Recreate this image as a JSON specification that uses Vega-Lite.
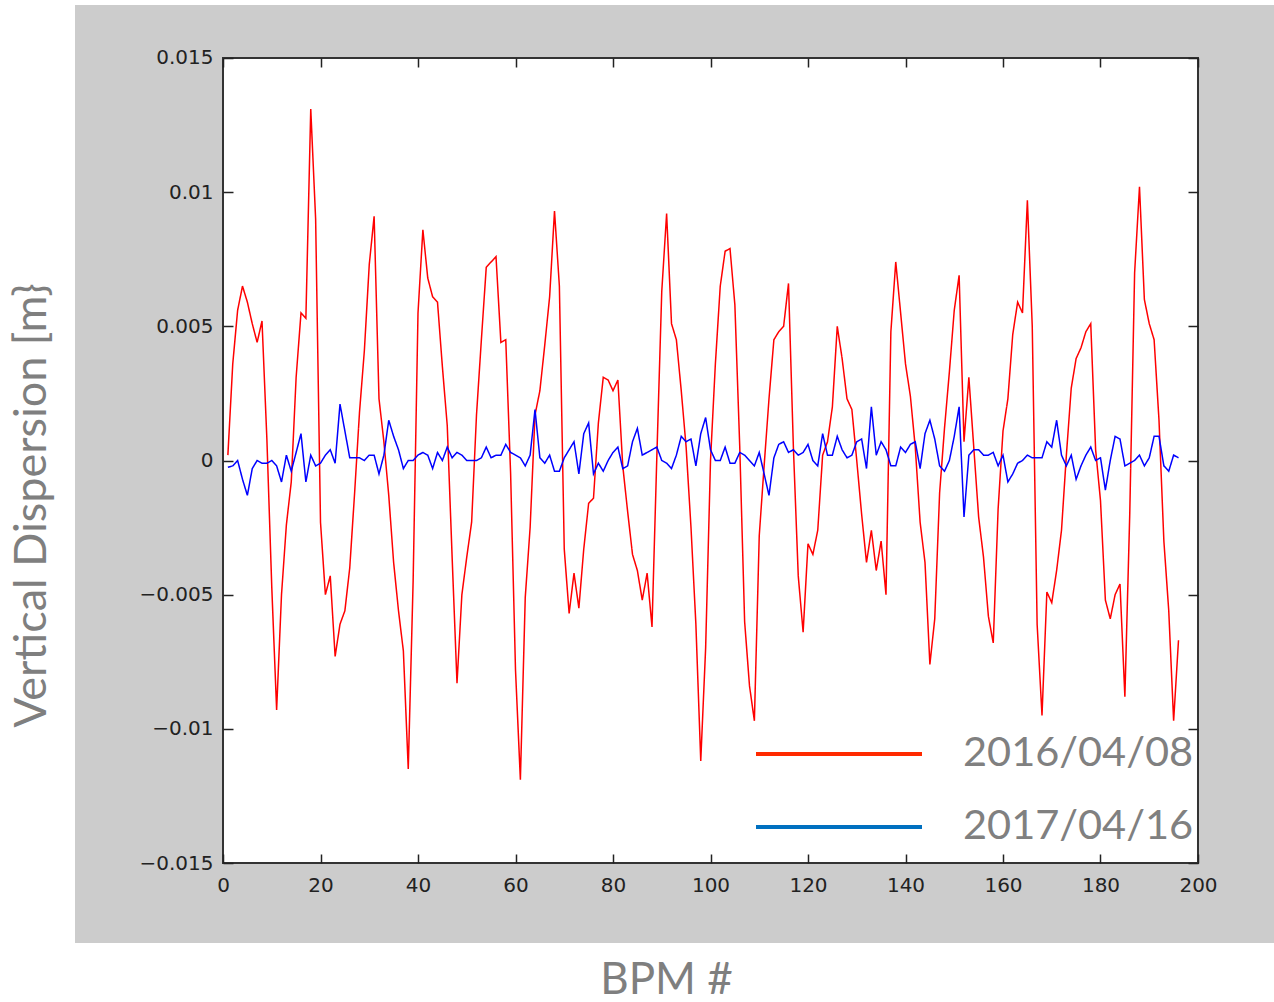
{
  "$schema": "https://vega.github.io/schema/vega-lite/v6.json",
  "width": 1199,
  "height": 938,
  "autosize": {"type": "none"},
  "padding": {"left": 75, "top": 5, "right": 0, "bottom": 59},
  "background": "#ffffff",
  "view": {"fill": "#cccccc", "stroke": null},
  "config": {
    "axis": {"grid": false, "domain": false, "tickColor": "#222222", "tickWidth": 1.5, "labelFont": "DejaVu Sans", "labelFontSize": 20, "labelColor": "#222222"}
  },
  "datasets": {
    "frame": [{"x0": 0, "x1": 200, "y0": -0.015, "y1": 0.015}],
    "red": [
{"bpm":1,"value":0.0002},{"bpm":2,"value":0.0036},{"bpm":3,"value":0.0056},{"bpm":4,"value":0.0065},{"bpm":5,"value":0.0059},{"bpm":6,"value":0.0051},{"bpm":7,"value":0.0044},{"bpm":8,"value":0.0052},{"bpm":9,"value":0.0008},{"bpm":10,"value":-0.0047},
{"bpm":11,"value":-0.0093},{"bpm":12,"value":-0.0050},{"bpm":13,"value":-0.0024},{"bpm":14,"value":-0.0008},{"bpm":15,"value":0.0031},{"bpm":16,"value":0.0055},{"bpm":17,"value":0.0053},{"bpm":18,"value":0.0131},{"bpm":19,"value":0.0090},{"bpm":20,"value":-0.0023},
{"bpm":21,"value":-0.0050},{"bpm":22,"value":-0.0043},{"bpm":23,"value":-0.0073},{"bpm":24,"value":-0.0061},{"bpm":25,"value":-0.0056},{"bpm":26,"value":-0.0040},{"bpm":27,"value":-0.0012},{"bpm":28,"value":0.0018},{"bpm":29,"value":0.0041},{"bpm":30,"value":0.0073},
{"bpm":31,"value":0.0091},{"bpm":32,"value":0.0023},{"bpm":33,"value":0.0007},{"bpm":34,"value":-0.0013},{"bpm":35,"value":-0.0038},{"bpm":36,"value":-0.0056},{"bpm":37,"value":-0.0071},{"bpm":38,"value":-0.0115},{"bpm":39,"value":-0.0045},{"bpm":40,"value":0.0055},
{"bpm":41,"value":0.0086},{"bpm":42,"value":0.0068},{"bpm":43,"value":0.0061},{"bpm":44,"value":0.0059},{"bpm":45,"value":0.0035},{"bpm":46,"value":0.0013},{"bpm":47,"value":-0.0036},{"bpm":48,"value":-0.0083},{"bpm":49,"value":-0.0050},{"bpm":50,"value":-0.0036},
{"bpm":51,"value":-0.0023},{"bpm":52,"value":0.0017},{"bpm":53,"value":0.0045},{"bpm":54,"value":0.0072},{"bpm":55,"value":0.0074},{"bpm":56,"value":0.0076},{"bpm":57,"value":0.0044},{"bpm":58,"value":0.0045},{"bpm":59,"value":-0.0005},{"bpm":60,"value":-0.0078},
{"bpm":61,"value":-0.0119},{"bpm":62,"value":-0.0051},{"bpm":63,"value":-0.0025},{"bpm":64,"value":0.0017},{"bpm":65,"value":0.0026},{"bpm":66,"value":0.0043},{"bpm":67,"value":0.0061},{"bpm":68,"value":0.0093},{"bpm":69,"value":0.0065},{"bpm":70,"value":-0.0033},
{"bpm":71,"value":-0.0057},{"bpm":72,"value":-0.0042},{"bpm":73,"value":-0.0055},{"bpm":74,"value":-0.0033},{"bpm":75,"value":-0.0016},{"bpm":76,"value":-0.0014},{"bpm":77,"value":0.0014},{"bpm":78,"value":0.0031},{"bpm":79,"value":0.0030},{"bpm":80,"value":0.0026},
{"bpm":81,"value":0.0030},{"bpm":82,"value":-0.0002},{"bpm":83,"value":-0.0019},{"bpm":84,"value":-0.0035},{"bpm":85,"value":-0.0041},{"bpm":86,"value":-0.0052},{"bpm":87,"value":-0.0042},{"bpm":88,"value":-0.0062},{"bpm":89,"value":0.0002},{"bpm":90,"value":0.0063},
{"bpm":91,"value":0.0092},{"bpm":92,"value":0.0051},{"bpm":93,"value":0.0045},{"bpm":94,"value":0.0026},{"bpm":95,"value":0.0005},{"bpm":96,"value":-0.0025},{"bpm":97,"value":-0.0061},{"bpm":98,"value":-0.0112},{"bpm":99,"value":-0.0070},{"bpm":100,"value":0.0000},
{"bpm":101,"value":0.0036},{"bpm":102,"value":0.0065},{"bpm":103,"value":0.0078},{"bpm":104,"value":0.0079},{"bpm":105,"value":0.0058},{"bpm":106,"value":0.0005},{"bpm":107,"value":-0.0060},{"bpm":108,"value":-0.0084},{"bpm":109,"value":-0.0097},{"bpm":110,"value":-0.0028},
{"bpm":111,"value":-0.0002},{"bpm":112,"value":0.0023},{"bpm":113,"value":0.0045},{"bpm":114,"value":0.0048},{"bpm":115,"value":0.0050},{"bpm":116,"value":0.0066},{"bpm":117,"value":0.0005},{"bpm":118,"value":-0.0043},{"bpm":119,"value":-0.0064},{"bpm":120,"value":-0.0031},
{"bpm":121,"value":-0.0035},{"bpm":122,"value":-0.0026},{"bpm":123,"value":0.0002},{"bpm":124,"value":0.0007},{"bpm":125,"value":0.0020},{"bpm":126,"value":0.0050},{"bpm":127,"value":0.0038},{"bpm":128,"value":0.0023},{"bpm":129,"value":0.0019},{"bpm":130,"value":0.0000},
{"bpm":131,"value":-0.0020},{"bpm":132,"value":-0.0038},{"bpm":133,"value":-0.0026},{"bpm":134,"value":-0.0041},{"bpm":135,"value":-0.0030},{"bpm":136,"value":-0.0050},{"bpm":137,"value":0.0048},{"bpm":138,"value":0.0074},{"bpm":139,"value":0.0055},{"bpm":140,"value":0.0036},
{"bpm":141,"value":0.0024},{"bpm":142,"value":0.0005},{"bpm":143,"value":-0.0023},{"bpm":144,"value":-0.0038},{"bpm":145,"value":-0.0076},{"bpm":146,"value":-0.0059},{"bpm":147,"value":-0.0012},{"bpm":148,"value":0.0012},{"bpm":149,"value":0.0033},{"bpm":150,"value":0.0056},
{"bpm":151,"value":0.0069},{"bpm":152,"value":0.0007},{"bpm":153,"value":0.0031},{"bpm":154,"value":0.0005},{"bpm":155,"value":-0.0021},{"bpm":156,"value":-0.0036},{"bpm":157,"value":-0.0058},{"bpm":158,"value":-0.0068},{"bpm":159,"value":-0.0018},{"bpm":160,"value":0.0011},
{"bpm":161,"value":0.0023},{"bpm":162,"value":0.0047},{"bpm":163,"value":0.0059},{"bpm":164,"value":0.0055},{"bpm":165,"value":0.0097},{"bpm":166,"value":0.0050},{"bpm":167,"value":-0.0061},{"bpm":168,"value":-0.0095},{"bpm":169,"value":-0.0049},{"bpm":170,"value":-0.0053},
{"bpm":171,"value":-0.0041},{"bpm":172,"value":-0.0026},{"bpm":173,"value":0.0002},{"bpm":174,"value":0.0027},{"bpm":175,"value":0.0038},{"bpm":176,"value":0.0042},{"bpm":177,"value":0.0048},{"bpm":178,"value":0.0051},{"bpm":179,"value":0.0004},{"bpm":180,"value":-0.0015},
{"bpm":181,"value":-0.0052},{"bpm":182,"value":-0.0059},{"bpm":183,"value":-0.0050},{"bpm":184,"value":-0.0046},{"bpm":185,"value":-0.0088},{"bpm":186,"value":-0.0020},{"bpm":187,"value":0.0070},{"bpm":188,"value":0.0102},{"bpm":189,"value":0.0060},{"bpm":190,"value":0.0051},
{"bpm":191,"value":0.0045},{"bpm":192,"value":0.0015},{"bpm":193,"value":-0.0030},{"bpm":194,"value":-0.0056},{"bpm":195,"value":-0.0097},{"bpm":196,"value":-0.0067}
    ],
    "blue": [
{"bpm":1,"value":-0.00025},{"bpm":2,"value":-0.0002},{"bpm":3,"value":0.0000},{"bpm":4,"value":-0.0007},{"bpm":5,"value":-0.0013},{"bpm":6,"value":-0.0003},{"bpm":7,"value":0.0000},{"bpm":8,"value":-0.0001},{"bpm":9,"value":-0.0001},{"bpm":10,"value":0.0000},
{"bpm":11,"value":-0.0002},{"bpm":12,"value":-0.0008},{"bpm":13,"value":0.0002},{"bpm":14,"value":-0.0004},{"bpm":15,"value":0.0003},{"bpm":16,"value":0.0010},{"bpm":17,"value":-0.0008},{"bpm":18,"value":0.0002},{"bpm":19,"value":-0.0002},{"bpm":20,"value":-0.0001},
{"bpm":21,"value":0.0002},{"bpm":22,"value":0.0004},{"bpm":23,"value":-0.0001},{"bpm":24,"value":0.0021},{"bpm":25,"value":0.0011},{"bpm":26,"value":0.0001},{"bpm":27,"value":0.0001},{"bpm":28,"value":0.0001},{"bpm":29,"value":0.0000},{"bpm":30,"value":0.0002},
{"bpm":31,"value":0.0002},{"bpm":32,"value":-0.0005},{"bpm":33,"value":0.0002},{"bpm":34,"value":0.0015},{"bpm":35,"value":0.0009},{"bpm":36,"value":0.0004},{"bpm":37,"value":-0.0003},{"bpm":38,"value":0.0000},{"bpm":39,"value":0.0000},{"bpm":40,"value":0.0002},
{"bpm":41,"value":0.0003},{"bpm":42,"value":0.0002},{"bpm":43,"value":-0.0003},{"bpm":44,"value":0.0003},{"bpm":45,"value":0.0000},{"bpm":46,"value":0.0005},{"bpm":47,"value":0.0001},{"bpm":48,"value":0.0003},{"bpm":49,"value":0.0002},{"bpm":50,"value":0.0000},
{"bpm":51,"value":0.0000},{"bpm":52,"value":0.0000},{"bpm":53,"value":0.0001},{"bpm":54,"value":0.0005},{"bpm":55,"value":0.0001},{"bpm":56,"value":0.0002},{"bpm":57,"value":0.0002},{"bpm":58,"value":0.0006},{"bpm":59,"value":0.0003},{"bpm":60,"value":0.0002},
{"bpm":61,"value":0.0001},{"bpm":62,"value":-0.0002},{"bpm":63,"value":0.0002},{"bpm":64,"value":0.0019},{"bpm":65,"value":0.0001},{"bpm":66,"value":-0.0001},{"bpm":67,"value":0.0002},{"bpm":68,"value":-0.0004},{"bpm":69,"value":-0.0004},{"bpm":70,"value":0.0001},
{"bpm":71,"value":0.0004},{"bpm":72,"value":0.0007},{"bpm":73,"value":-0.0005},{"bpm":74,"value":0.0010},{"bpm":75,"value":0.0014},{"bpm":76,"value":-0.0005},{"bpm":77,"value":-0.0001},{"bpm":78,"value":-0.0004},{"bpm":79,"value":0.0000},{"bpm":80,"value":0.0003},
{"bpm":81,"value":0.0005},{"bpm":82,"value":-0.0003},{"bpm":83,"value":-0.0002},{"bpm":84,"value":0.0007},{"bpm":85,"value":0.0012},{"bpm":86,"value":0.0002},{"bpm":87,"value":0.0003},{"bpm":88,"value":0.0004},{"bpm":89,"value":0.0005},{"bpm":90,"value":0.0000},
{"bpm":91,"value":-0.0001},{"bpm":92,"value":-0.0003},{"bpm":93,"value":0.0002},{"bpm":94,"value":0.0009},{"bpm":95,"value":0.0007},{"bpm":96,"value":0.0008},{"bpm":97,"value":-0.0002},{"bpm":98,"value":0.0010},{"bpm":99,"value":0.0016},{"bpm":100,"value":0.0004},
{"bpm":101,"value":0.0000},{"bpm":102,"value":0.0000},{"bpm":103,"value":0.0005},{"bpm":104,"value":-0.0001},{"bpm":105,"value":-0.0001},{"bpm":106,"value":0.0003},{"bpm":107,"value":0.0002},{"bpm":108,"value":0.0000},{"bpm":109,"value":-0.0002},{"bpm":110,"value":0.0003},
{"bpm":111,"value":-0.0005},{"bpm":112,"value":-0.0013},{"bpm":113,"value":0.0001},{"bpm":114,"value":0.0006},{"bpm":115,"value":0.0007},{"bpm":116,"value":0.0003},{"bpm":117,"value":0.0004},{"bpm":118,"value":0.0002},{"bpm":119,"value":0.0003},{"bpm":120,"value":0.0006},
{"bpm":121,"value":0.0000},{"bpm":122,"value":-0.0002},{"bpm":123,"value":0.0010},{"bpm":124,"value":0.0002},{"bpm":125,"value":0.0002},{"bpm":126,"value":0.0009},{"bpm":127,"value":0.0004},{"bpm":128,"value":0.0001},{"bpm":129,"value":0.0002},{"bpm":130,"value":0.0007},
{"bpm":131,"value":0.0008},{"bpm":132,"value":-0.0003},{"bpm":133,"value":0.0020},{"bpm":134,"value":0.0002},{"bpm":135,"value":0.0007},{"bpm":136,"value":0.0004},{"bpm":137,"value":-0.0002},{"bpm":138,"value":-0.0002},{"bpm":139,"value":0.0005},{"bpm":140,"value":0.0003},
{"bpm":141,"value":0.0006},{"bpm":142,"value":0.0007},{"bpm":143,"value":-0.0003},{"bpm":144,"value":0.0010},{"bpm":145,"value":0.0015},{"bpm":146,"value":0.0008},{"bpm":147,"value":-0.0002},{"bpm":148,"value":-0.0004},{"bpm":149,"value":0.0000},{"bpm":150,"value":0.0009},
{"bpm":151,"value":0.0020},{"bpm":152,"value":-0.0021},{"bpm":153,"value":0.0002},{"bpm":154,"value":0.0004},{"bpm":155,"value":0.0004},{"bpm":156,"value":0.0002},{"bpm":157,"value":0.0002},{"bpm":158,"value":0.0003},{"bpm":159,"value":-0.0002},{"bpm":160,"value":0.0002},
{"bpm":161,"value":-0.0008},{"bpm":162,"value":-0.0005},{"bpm":163,"value":-0.0001},{"bpm":164,"value":0.0000},{"bpm":165,"value":0.0002},{"bpm":166,"value":0.0001},{"bpm":167,"value":0.0001},{"bpm":168,"value":0.0001},{"bpm":169,"value":0.0007},{"bpm":170,"value":0.0005},
{"bpm":171,"value":0.0015},{"bpm":172,"value":0.0002},{"bpm":173,"value":-0.0002},{"bpm":174,"value":0.0002},{"bpm":175,"value":-0.0007},{"bpm":176,"value":-0.0002},{"bpm":177,"value":0.0002},{"bpm":178,"value":0.0005},{"bpm":179,"value":0.0000},{"bpm":180,"value":0.0001},
{"bpm":181,"value":-0.0011},{"bpm":182,"value":0.0000},{"bpm":183,"value":0.0009},{"bpm":184,"value":0.0008},{"bpm":185,"value":-0.0002},{"bpm":186,"value":-0.0001},{"bpm":187,"value":0.0000},{"bpm":188,"value":0.0002},{"bpm":189,"value":-0.0002},{"bpm":190,"value":0.0001},
{"bpm":191,"value":0.0009},{"bpm":192,"value":0.0009},{"bpm":193,"value":-0.0002},{"bpm":194,"value":-0.0004},{"bpm":195,"value":0.0002},{"bpm":196,"value":0.0001}
    ]
  },
  "resolve": {"axis": {"x": "independent", "y": "independent"}, "scale": {"strokeDash": "independent"}, "legend": {"strokeDash": "independent"}},
  "layer": [
    {
      "data": {"name": "frame"},
      "mark": {"type": "rect", "fill": "#ffffff", "stroke": "#333333", "strokeWidth": 2},
      "encoding": {
        "x": {"field": "x0", "type": "quantitative", "scale": {"domain": [-30.36, 215.59], "nice": false, "zero": false},
              "axis": {"orient": "bottom", "offset": -80, "zindex": 1, "values": [0,20,40,60,80,100,120,140,160,180,200], "tickSize": -9, "labelPadding": 21, "title": "BPM #", "titleFont": "Lato", "titleFontSize": 44, "titleFontWeight": "normal", "titleColor": "#7f7f7f", "titleX": 591, "titleY": 130, "titleAlign": "center", "titleBaseline": "alphabetic", "titleAngle": 0}},
        "x2": {"field": "x1"},
        "y": {"field": "y0", "type": "quantitative", "scale": {"domain": [-0.017981, 0.016975], "nice": false, "zero": false},
              "axis": {"orient": "left", "offset": -148, "zindex": 1, "values": [-0.015,-0.01,-0.005,0,0.005,0.01,0.015], "format": ".3~f", "tickSize": -10, "labelPadding": 20, "title": "Vertical Dispersion [m}", "titleFont": "Lato", "titleFontSize": 45, "titleFontWeight": "normal", "titleColor": "#7f7f7f", "titleX": -178, "titleY": 500, "titleAlign": "center", "titleBaseline": "alphabetic", "titleAngle": -90}},
        "y2": {"field": "y1"}
      }
    },
    {
      "data": {"name": "red"},
      "mark": {"type": "line", "strokeWidth": 1.5, "color": "#ff0000"},
      "encoding": {
        "x": {"field": "bpm", "type": "quantitative", "scale": {"domain": [-30.36, 215.59], "nice": false, "zero": false},
              "axis": {"orient": "top", "offset": -53, "zindex": 1, "values": [0,20,40,60,80,100,120,140,160,180,200], "tickSize": -9, "labels": false, "title": null}},
        "y": {"field": "value", "type": "quantitative", "scale": {"domain": [-0.017981, 0.016975], "nice": false, "zero": false},
              "axis": {"orient": "right", "offset": -76, "zindex": 1, "values": [-0.015,-0.01,-0.005,0,0.005,0.01,0.015], "tickSize": -10, "labels": false, "title": null}},
        "strokeDash": {"datum": "2016/04/08", "type": "nominal", "title": null,
                  "scale": {"domain": ["2016/04/08"], "range": [[1, 0]]},
                  "legend": {"orient": "none", "legendX": 679, "legendY": 664, "symbolType": "stroke", "symbolSize": 27556, "symbolStrokeWidth": 4, "symbolStrokeColor": "#ff2a00", "labelFont": "Lato", "labelFontSize": 41.5, "labelColor": "#808080", "labelOffset": 39, "labelLimit": 0}}
      }
    },
    {
      "data": {"name": "blue"},
      "mark": {"type": "line", "strokeWidth": 1.5, "color": "#0000ff"},
      "encoding": {
        "x": {"field": "bpm", "type": "quantitative", "axis": null},
        "y": {"field": "value", "type": "quantitative", "axis": null},
        "strokeDash": {"datum": "2017/04/16", "type": "nominal", "title": null,
                  "scale": {"domain": ["2017/04/16"], "range": [[1, 0]]},
                  "legend": {"orient": "none", "legendX": 679, "legendY": 737, "symbolType": "stroke", "symbolSize": 27556, "symbolStrokeWidth": 4, "symbolStrokeColor": "#0070c0", "labelFont": "Lato", "labelFontSize": 41.5, "labelColor": "#808080", "labelOffset": 39, "labelLimit": 0}}
      }
    }
  ]
}
